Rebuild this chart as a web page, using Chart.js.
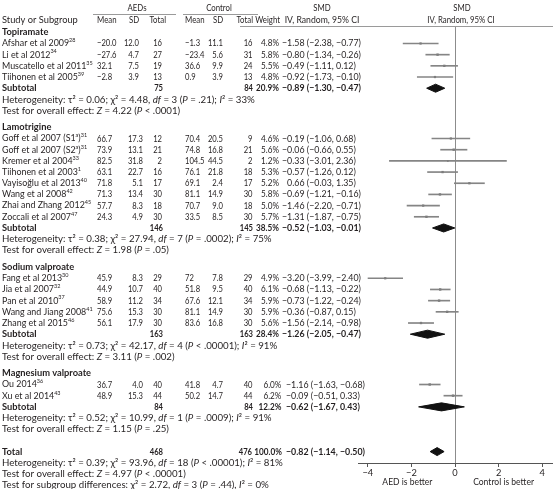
<!DOCTYPE html>
<html>
<head>
<meta charset="utf-8">
<script src="https://cdn.jsdelivr.net/npm/chart.js@4.4.1/dist/chart.umd.min.js"></script>
<style>
  html, body { margin: 0; padding: 0; background: #fff; }
  canvas { display: block; }
</style>
</head>
<body>
<canvas id="forest" width="558" height="489"></canvas>
<script>
// ---- data ----
const groupNames = ['Topiramate', 'Lamotrigine', 'Sodium valproate', 'Magnesium valproate'];
const groupSizes = [4, 8, 5, 2];

const studyNames = [
  'Afshar et al 2009', 'Li et al 2012', 'Muscatello et al 2011', 'Tiihonen et al 2005',
  'Goff et al 2007 (S1^a^)', 'Goff et al 2007 (S2^a^)', 'Kremer et al 2004', 'Tiihonen et al 2003',
  'Vayisoğlu et al 2013', 'Wang et al 2008', 'Zhai and Zhang 2012', 'Zoccali et al 2007',
  'Fang et al 2013', 'Jia et al 2007', 'Pan et al 2010', 'Wang and Jiang 2008', 'Zhang et al 2015',
  'Ou 2014', 'Xu et al 2014'
];
const studyRefs = [28, 34, 35, 39, 31, 31, 33, 1, 40, 42, 45, 47, 30, 32, 37, 41, 46, 36, 43];

const aedMean = ['−20.0', '−27.6', '32.1', '−2.8', '66.7', '73.9', '82.5', '63.1', '71.8', '71.3', '57.7', '24.3',
  '45.9', '44.9', '58.9', '75.6', '56.1', '36.7', '48.9'];
const aedSD = ['12.0', '4.7', '7.5', '3.9', '17.3', '13.1', '31.8', '22.7', '5.1', '13.4', '8.3', '4.9',
  '8.3', '10.7', '11.2', '15.3', '17.9', '4.0', '15.3'];
const aedN = [16, 27, 19, 13, 12, 21, 2, 16, 17, 30, 18, 30, 29, 40, 34, 30, 30, 40, 44];
const ctrlMean = ['−1.3', '−23.4', '36.6', '0.9', '70.4', '74.8', '104.5', '76.1', '69.1', '81.1', '70.7', '33.5',
  '72', '51.8', '67.6', '81.1', '83.6', '41.8', '50.2'];
const ctrlSD = ['11.1', '5.6', '9.9', '3.9', '20.5', '16.8', '44.5', '21.8', '2.4', '14.9', '9.0', '8.5',
  '7.8', '9.5', '12.1', '14.9', '16.8', '4.7', '14.7'];
const ctrlN = [16, 31, 24, 13, 9, 21, 2, 18, 17, 30, 18, 30, 29, 40, 34, 30, 30, 40, 44];

const weights = [4.8, 5.8, 5.5, 4.8, 4.6, 5.6, 1.2, 5.3, 5.2, 5.8, 5.0, 5.7, 4.9, 6.1, 5.9, 5.9, 5.6, 6.0, 6.2];
const smd = [-1.58, -0.80, -0.49, -0.92, -0.19, -0.06, -0.33, -0.57, 0.66, -0.69, -1.46, -1.31,
  -3.20, -0.68, -0.73, -0.36, -1.56, -1.16, -0.09];
const ciLow = [-2.38, -1.34, -1.11, -1.73, -1.06, -0.66, -3.01, -1.26, -0.03, -1.21, -2.20, -1.87,
  -3.99, -1.13, -1.22, -0.87, -2.14, -1.63, -0.51];
const ciHigh = [-0.77, -0.26, 0.12, -0.10, 0.68, 0.55, 2.36, 0.12, 1.35, -0.16, -0.71, -0.75,
  -2.40, -0.22, -0.24, 0.15, -0.98, -0.68, 0.33];

const subAedN = [75, 146, 163, 84];
const subCtrlN = [84, 145, 163, 84];
const subWeight = [20.9, 38.5, 28.4, 12.2];
const subSmd = [-0.89, -0.52, -1.26, -0.62];
const subLow = [-1.30, -1.03, -2.05, -1.67];
const subHigh = [-0.47, -0.01, -0.47, 0.43];
const groupHet = [
  'Heterogeneity: τ² = 0.06; χ² = 4.48, {df} = 3 ({P} = .21); {I}² = 33%',
  'Heterogeneity: τ² = 0.38; χ² = 27.94, {df} = 7 ({P} = .0002); {I}² = 75%',
  'Heterogeneity: τ² = 0.73; χ² = 42.17, {df} = 4 ({P} < .00001); {I}² = 91%',
  'Heterogeneity: τ² = 0.52; χ² = 10.99, {df} = 1 ({P} = .0009); {I}² = 91%'
];
const groupTest = [
  'Test for overall effect: {Z} = 4.22 ({P} < .0001)',
  'Test for overall effect: {Z} = 1.98 ({P} = .05)',
  'Test for overall effect: {Z} = 3.11 ({P} = .002)',
  'Test for overall effect: {Z} = 1.15 ({P} = .25)'
];

const totalAedN = 468;
const totalCtrlN = 476;
const totalWeight = 100.0;
const totalSmd = -0.82;
const totalLow = -1.14;
const totalHigh = -0.50;
const totalNotes = [
  'Heterogeneity: τ² = 0.39; χ² = 93.96, {df} = 18 ({P} < .00001); {I}² = 81%',
  'Test for overall effect: {Z} = 4.97 ({P} < .00001)',
  'Test for subgroup differences: χ² = 2.72, {df} = 3 ({P} = .44), {I}² = 0%'
];

const xTicks = [-4, -2, 0, 2, 4];

// ---- row layout (in row units) ----
const studyPos = [], studyGroup = [], headPos = [], subPos = [], hetPos = [], testPos = [];
let pos = 0;
groupNames.forEach((g, gi) => {
  headPos.push(pos);
  for (let j = 0; j < groupSizes[gi]; j++) {
    pos += 1;
    studyPos.push(pos);
    studyGroup.push(gi);
  }
  subPos.push(pos + 1);
  hetPos.push(pos + 2);
  testPos.push(pos + 3);
  pos += 4.5;
});
const totalPos = pos + 0.5;

const FONT = 'Lato, "Open Sans", sans-serif';
const FS = 9.3;
const NAME_FS = 8.9;
const NOTE_FS = 9.7;
const NUMX = 0.82;   // mean / SD / n columns are set narrow
const WX = 0.88;     // weight column
const CIX = 0.95;    // effect + CI column
const HEADX = 0.84;
const INK = '#231f20';
const groupShift = [0, 0, 0, 4];
const DIA = 0.36;

function fmt(v, d) {
  const s = Math.abs(v).toFixed(d);
  return v < 0 ? '−' + s : s;
}

function diamond(est, lo, hi, p) {
  return [
    { x: lo, y: p }, { x: est, y: p - DIA }, { x: hi, y: p }, { x: est, y: p + DIA }, { x: lo, y: p }
  ];
}

// draw a string with {italic} and ^superscript^ pieces
function drawRich(ctx, str, x, y, weight, size) {
  const fs = size || FS;
  const parts = str.split(/(\{[^}]*\}|\^[^\^]*\^)/).filter(Boolean);
  ctx.textAlign = 'left';
  parts.forEach(p => {
    let t = p, font = `${weight} ${fs}px ${FONT}`, dy = 0;
    if (p[0] === '{') {
      t = p.slice(1, -1);
      font = `italic ${weight} ${fs}px ${FONT}`;
    } else if (p[0] === '^') {
      t = p.slice(1, -1);
      font = `${weight} ${fs * 0.62}px ${FONT}`;
      dy = -fs * 0.33;
    }
    ctx.font = font;
    ctx.fillText(t, x, y + dy);
    x += ctx.measureText(t).width;
  });
}

function label(ctx, s, x, y, align, weight, sx) {
  ctx.save();
  ctx.font = `${weight || 'normal'} ${FS}px ${FONT}`;
  ctx.textAlign = align || 'left';
  ctx.translate(x, y);
  ctx.scale(sx || 1, 1);
  ctx.fillText(s, 0, 0);
  ctx.restore();
}

function num(ctx, s, x, y, align, weight) {
  label(ctx, s, x, y, align, weight, NUMX);
}

function ciText(ctx, est, lo, hi, x, y, weight) {
  ctx.font = `${weight} ${FS}px ${FONT}`;
  const pad = est >= 0 ? ctx.measureText('−').width * CIX : 0;
  label(ctx, `${fmt(est, 2)} (${fmt(lo, 2)}, ${fmt(hi, 2)})`, x + pad, y, 'left', weight, CIX);
}

const tablePlugin = {
  id: 'forestTable',
  afterDraw(chart) {
    const ctx = chart.ctx;
    const y = chart.scales.y;
    const x = chart.scales.x;
    const area = chart.chartArea;
    ctx.save();
    ctx.fillStyle = INK;
    ctx.textBaseline = 'middle';

    // column headers
    label(ctx, 'AEDs', 137, 8, 'center', 'normal', HEADX);
    label(ctx, 'Control', 219, 8, 'center', 'normal', HEADX);
    label(ctx, 'SMD', 322, 8, 'center', 'normal', HEADX);
    label(ctx, 'SMD', 462, 8, 'center', 'normal', HEADX);
    label(ctx, 'Study or Subgroup', 2, 20);
    label(ctx, 'Mean', 97, 20, 'left', 'normal', HEADX);
    label(ctx, 'SD', 134, 20, 'center', 'normal', HEADX);
    label(ctx, 'Total', 166, 20, 'right', 'normal', HEADX);
    label(ctx, 'Mean', 185, 20, 'left', 'normal', HEADX);
    label(ctx, 'SD', 218, 20, 'center', 'normal', HEADX);
    label(ctx, 'Total', 253, 20, 'right', 'normal', HEADX);
    label(ctx, 'Weight', 280, 20, 'right', 'normal', HEADX);
    label(ctx, 'IV, Random, 95% CI', 322, 20, 'center', 'normal', 0.93);
    label(ctx, 'IV, Random, 95% CI', 461, 20, 'center', 'normal', HEADX);

    ctx.strokeStyle = '#9a9a9a';
    ctx.lineWidth = 1;
    ctx.beginPath();
    ctx.moveTo(93, 14.5); ctx.lineTo(176, 14.5);
    ctx.moveTo(183, 14.5); ctx.lineTo(258, 14.5);
    ctx.moveTo(240, Math.round(area.top) + 0.5); ctx.lineTo(553, Math.round(area.top) + 0.5);
    ctx.stroke();

    groupNames.forEach((g, gi) => {
      const sh = groupShift[gi];
      label(ctx, g, 2, y.getPixelForValue(headPos[gi]), 'left', 'bold');
      const sy = y.getPixelForValue(subPos[gi]);
      label(ctx, 'Subtotal', 2, sy, 'left', 'bold');
      num(ctx, String(subAedN[gi]), 163, sy, 'right', 'bold');
      num(ctx, String(subCtrlN[gi]), 253, sy, 'right', 'bold');
      label(ctx, subWeight[gi].toFixed(1) + '%', 279 + sh * 0.6, sy, 'right', 'bold', WX);
      ciText(ctx, subSmd[gi], subLow[gi], subHigh[gi], 282 + sh, sy, 'bold');
      drawRich(ctx, groupHet[gi], 2, y.getPixelForValue(hetPos[gi]), 'normal', NOTE_FS);
      drawRich(ctx, groupTest[gi], 2, y.getPixelForValue(testPos[gi]), 'normal', NOTE_FS);
    });

    studyNames.forEach((name, i) => {
      const py = y.getPixelForValue(studyPos[i]);
      const gi = studyGroup[i];
      const sh = groupShift[gi];
      drawRich(ctx, `${name}^${studyRefs[i]}^`, 2, py, 'normal', NAME_FS);
      num(ctx, aedMean[i], 97, py, 'left');
      num(ctx, aedSD[i], gi === 0 ? 139 : 143, py, 'right');
      num(ctx, String(aedN[i]), 162, py, 'right');
      num(ctx, ctrlMean[i], 185, py, 'left');
      num(ctx, ctrlSD[i], 223, py, 'right');
      num(ctx, String(ctrlN[i]), 252.5, py, 'right');
      label(ctx, weights[i].toFixed(1) + '%', 279 + sh * 0.6, py, 'right', 'normal', WX);
      ciText(ctx, smd[i], ciLow[i], ciHigh[i], 282 + sh, py, 'normal');
    });

    const ty = y.getPixelForValue(totalPos);
    label(ctx, 'Total', 2, ty, 'left', 'bold');
    num(ctx, String(totalAedN), 163, ty, 'right', 'bold');
    num(ctx, String(totalCtrlN), 252, ty, 'right', 'bold');
    label(ctx, totalWeight.toFixed(1) + '%', 282, ty, 'right', 'bold', WX);
    ciText(ctx, totalSmd, totalLow, totalHigh, 286, ty, 'bold');
    totalNotes.forEach((s, j) => {
      drawRich(ctx, s, 2, y.getPixelForValue(totalPos + 1 + j), 'normal', NOTE_FS);
    });

    label(ctx, 'AED is better', (x.getPixelForValue(-4) + x.getPixelForValue(0)) / 2 - 4, 482, 'center', 'normal', 0.92);
    label(ctx, 'Control is better', (x.getPixelForValue(0) + x.getPixelForValue(4)) / 2 + 5, 482, 'center', 'normal', 0.92);
    ctx.restore();
  }
};

const datasets = [
  {
    type: 'scatter',
    data: smd.map((v, i) => ({ x: v, y: studyPos[i] })),
    pointStyle: 'rect',
    pointRadius: weights.map(w => 1.1 + w * 0.1),
    backgroundColor: '#7d7d7d',
    borderWidth: 0
  },
  {
    type: 'bar',
    indexAxis: 'y',
    data: smd.map((v, i) => ({ y: studyPos[i], x: [ciLow[i], ciHigh[i]] })),
    backgroundColor: '#858585',
    borderWidth: 0,
    barThickness: 1,
    grouped: false
  }
];
subSmd.forEach((v, gi) => {
  datasets.push({
    type: 'scatter',
    showLine: true,
    fill: 'shape',
    data: diamond(v, subLow[gi], subHigh[gi], subPos[gi]),
    borderColor: '#111',
    backgroundColor: '#111',
    borderWidth: 1,
    pointRadius: 0,
    tension: 0
  });
});
datasets.push({
  type: 'scatter',
  showLine: true,
  fill: 'shape',
  data: diamond(totalSmd, totalLow, totalHigh, totalPos),
  borderColor: '#111',
  backgroundColor: '#111',
  borderWidth: 1,
  pointRadius: 0,
  tension: 0
});

new Chart(document.getElementById('forest').getContext('2d'), {
  type: 'scatter',
  data: { datasets: datasets },
  plugins: [tablePlugin],
  options: {
    responsive: false,
    animation: false,
    events: [],
    layout: { padding: { left: 358, right: 6, top: 26, bottom: 0 } },
    plugins: {
      legend: { display: false },
      tooltip: { enabled: false }
    },
    scales: {
      x: {
        type: 'linear',
        min: -4.45,
        max: 4.45,
        afterBuildTicks: function (scale) {
          scale.ticks = xTicks.map(v => ({ value: v }));
        },
        afterFit: function (scale) {
          scale.height = 26;
        },
        grid: {
          color: ctx => (ctx.tick && ctx.tick.value === 0 ? '#8c8c8c' : 'rgba(0,0,0,0)'),
          tickColor: '#555',
          tickLength: 4,
          lineWidth: 1
        },
        border: { display: true, color: '#555', width: 1 },
        ticks: {
          padding: 0,
          color: INK,
          font: { family: FONT, size: FS },
          callback: function (value) {
            return value < 0 ? '−' + Math.abs(value) : String(value);
          }
        }
      },
      y: {
        type: 'linear',
        display: false,
        reverse: true,
        offset: false,
        min: -0.5635,
        max: 38.52
      }
    }
  }
});
</script>
</body>
</html>
